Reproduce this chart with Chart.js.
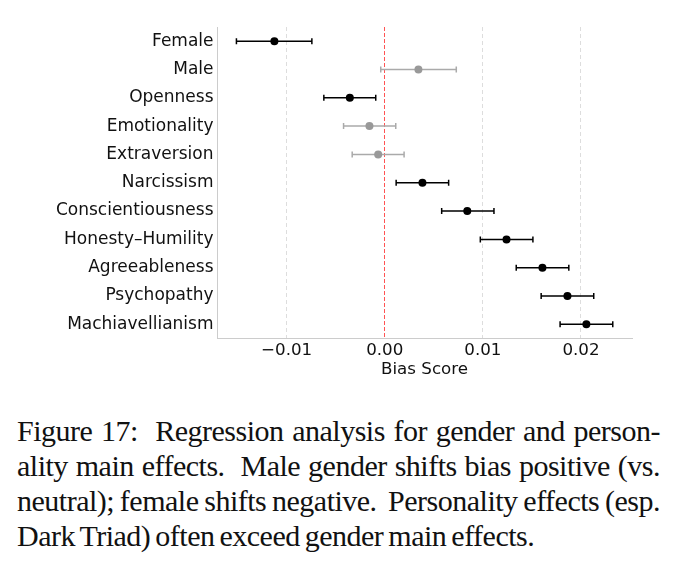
<!DOCTYPE html>
<html>
<head>
<meta charset="utf-8">
<script src="https://cdn.jsdelivr.net/npm/chart.js@4"></script>
<style>
  body { margin: 0; background: #fff; width: 691px; height: 569px; overflow: hidden; }
  #wrap { position: absolute; left: 0; top: 0; width: 691px; height: 390px; }
  #caption { position: absolute; left: 17px; top: 413px; width: 643px; font-family: "Liberation Serif", serif; font-size: 30px; line-height: 35px; color: #111; }
  #caption div { white-space: nowrap; text-align: justify; text-align-last: justify; letter-spacing: -0.5px; word-spacing: -2px; }
  #caption div.last { text-align-last: left; word-spacing: -2px; }
</style>
</head>
<body>
<div id="wrap"><canvas id="chart-bias" width="691" height="390"></canvas></div>
<div id="caption">
  <div>Figure 17:&nbsp; Regression analysis for gender and person-</div>
  <div>ality main effects.&nbsp; Male gender shifts bias positive (vs.</div>
  <div>neutral); female shifts negative.&nbsp; Personality effects (esp.</div>
  <div class="last">Dark Triad) often exceed gender main effects.</div>
</div>
<script>
const traits = ["Female", "Male", "Openness", "Emotionality", "Extraversion", "Narcissism", "Conscientiousness", "Honesty\u2013Humility", "Agreeableness", "Psychopathy", "Machiavellianism"];
const estimates = [-0.01125, 0.00343, -0.00356, -0.00156, -0.00067, 0.00384, 0.00841, 0.01241, 0.01607, 0.01862, 0.02055];
const ciLow = [-0.01512, -0.00041, -0.00621, -0.0042, -0.00332, 0.00116, 0.0058, 0.00974, 0.0134, 0.01594, 0.01787];
const ciHigh = [-0.00743, 0.00729, -0.00092, 0.00112, 0.00197, 0.00651, 0.01113, 0.0151, 0.01876, 0.0213, 0.02324];
const significant = [true, false, true, false, false, true, true, true, true, true, true];
const xTicks = [-0.01, 0, 0.01, 0.02];

const BLACK = "#000000";
const GREY_POINT = "#999999";
const GREY_BAR = "#aaaaaa";
const FONT = "'DejaVu Sans', sans-serif";

// whiskers with caps, drawn under the points
const errorBars = {
  id: "errorBars",
  beforeDatasetsDraw(chart) {
    const { ctx, scales: { x, y } } = chart;
    ctx.save();
    ctx.lineWidth = 1.5;
    traits.forEach((t, i) => {
      const py = y.getPixelForValue(i);
      const x0 = x.getPixelForValue(ciLow[i]);
      const x1 = x.getPixelForValue(ciHigh[i]);
      ctx.strokeStyle = significant[i] ? BLACK : GREY_BAR;
      ctx.beginPath();
      ctx.moveTo(x0, py); ctx.lineTo(x1, py);
      ctx.moveTo(x0, py - 3); ctx.lineTo(x0, py + 3);
      ctx.moveTo(x1, py - 3); ctx.lineTo(x1, py + 3);
      ctx.stroke();
    });
    ctx.restore();
  },
};

new Chart(document.getElementById("chart-bias"), {
  type: "line",
  data: {
    labels: traits,
    datasets: [
      {
        label: "Bias Score",
        data: estimates,
        showLine: false,
        pointRadius: 4,
        pointHoverRadius: 4,
        pointBorderWidth: 0,
        pointBackgroundColor: significant.map((s) => (s ? BLACK : GREY_POINT)),
        pointBorderColor: significant.map((s) => (s ? BLACK : GREY_POINT)),
      },
    ],
  },
  options: {
    indexAxis: "y",
    responsive: false,
    animation: false,
    devicePixelRatio: 1,
    layout: { padding: { top: 27, right: 59, left: 0, bottom: 0 } },
    plugins: { legend: { display: false }, tooltip: { enabled: false } },
    scales: {
      x: {
        type: "linear",
        min: -0.0171,
        max: 0.0252,
        afterBuildTicks: (scale) => { scale.ticks = xTicks.map((v) => ({ value: v })); },
        afterFit: (scale) => { scale.height = 51.5; },
        ticks: {
          padding: 2,
          color: "#111",
          font: { family: FONT, size: 16.7 },
          callback: (v) => (v < 0 ? "\u2212" : "") + Math.abs(v).toFixed(2),
        },
        grid: {
          drawTicks: false,
          lineWidth: 1,
          color: (ctx) => (ctx.tick && ctx.tick.value === 0 ? "rgba(255,40,40,0.8)" : "#dddddd"),
        },
        border: {
          color: "#cccccc",
          width: 1,
          dash: (ctx) => (ctx.tick && ctx.tick.value === 0 ? [4, 2] : [4, 3]),
        },
        title: {
          display: true,
          text: "Bias Score",
          color: "#111",
          font: { family: FONT, size: 16.7 },
          padding: { top: 0, bottom: 10.5 },
        },
      },
      y: {
        type: "category",
        offset: true,
        afterFit: (scale) => { scale.width = 217; },
        ticks: { padding: 3.5, color: "#111", font: { family: FONT, size: 17 } },
        grid: { display: false, drawTicks: false },
        border: { color: "#cccccc", width: 1 },
      },
    },
  },
  plugins: [errorBars],
});
</script>
</body>
</html>
